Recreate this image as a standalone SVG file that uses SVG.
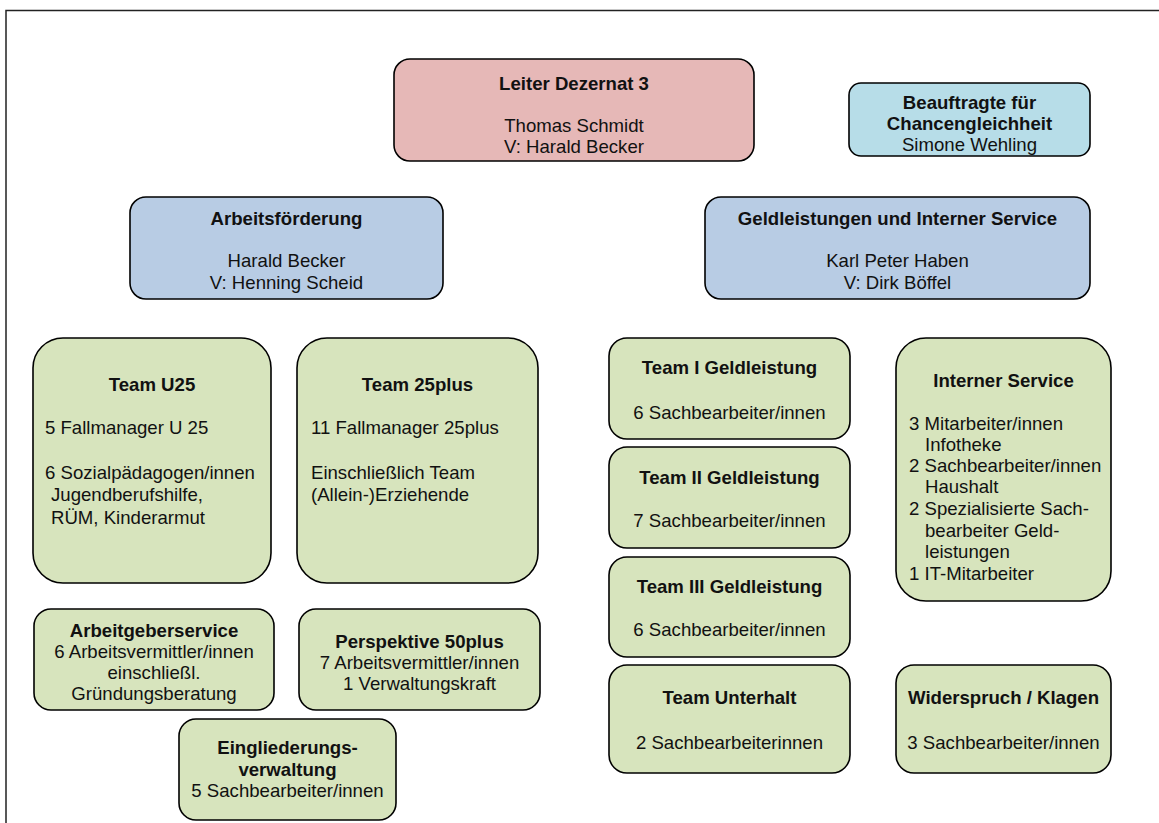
<svg xmlns="http://www.w3.org/2000/svg" width="1159" height="823" viewBox="0 0 1159 823">
<style>
.box{stroke:#000;stroke-width:1.6}
.red{fill:#e6b8b7}
.cyan{fill:#b7dde8}
.blue{fill:#b8cce4}
.green{fill:#d7e4bd}
text{font-family:"Liberation Sans",Arial,sans-serif;font-size:18.6px;fill:#111}
.b{font-weight:bold}
.c{text-anchor:middle}
</style>
<rect width="1159" height="823" fill="#fff"/>
<path d="M6,823 V10.5 H1159" fill="none" stroke="#222" stroke-width="1.5"/>
<g id="connectors"/>
<g id="leiter">
<rect class="box red" x="394" y="59" width="360" height="102" rx="16"/>
<text class="b c" x="574" y="90">Leiter Dezernat 3</text>
<text class="c" x="574" y="131.5">Thomas Schmidt</text>
<text class="c" x="574" y="153">V: Harald Becker</text>
</g>
<g id="chancengleichheit">
<rect class="box cyan" x="849" y="83" width="241" height="73" rx="12"/>
<text class="b c" x="969.5" y="108.5">Beauftragte für</text>
<text class="b c" x="969.5" y="129.5">Chancengleichheit</text>
<text class="c" x="969.5" y="150.5">Simone Wehling</text>
</g>
<g id="arbeitsfoerderung">
<rect class="box blue" x="130" y="197" width="313" height="102" rx="16"/>
<text class="b c" x="286.5" y="225">Arbeitsförderung</text>
<text class="c" x="286.5" y="267">Harald Becker</text>
<text class="c" x="286.5" y="289">V: Henning Scheid</text>
</g>
<g id="geldleistungen">
<rect class="box blue" x="705" y="197" width="385" height="102" rx="16"/>
<text class="b c" x="897.5" y="225">Geldleistungen und Interner Service</text>
<text class="c" x="897.5" y="267">Karl Peter Haben</text>
<text class="c" x="897.5" y="289">V: Dirk Böffel</text>
</g>
<g id="team-u25">
<rect class="box green" x="33" y="338" width="238" height="245" rx="30"/>
<text class="b c" x="152" y="390.5">Team U25</text>
<text x="45" y="434">5 Fallmanager U 25</text>
<text x="45" y="478.5">6 Sozialpädagogen/innen</text>
<text x="51" y="501">Jugendberufshilfe,</text>
<text x="51" y="523.5">RÜM, Kinderarmut</text>
</g>
<g id="team-25plus">
<rect class="box green" x="297" y="338" width="241" height="245" rx="30"/>
<text class="b c" x="417.5" y="390.5">Team 25plus</text>
<text x="311" y="434">11 Fallmanager 25plus</text>
<text x="311" y="478.5">Einschließlich Team</text>
<text x="311" y="501">(Allein-)Erziehende</text>
</g>
<g id="arbeitgeberservice">
<rect class="box green" x="34" y="609" width="240" height="101" rx="17"/>
<text class="b c" x="154" y="637">Arbeitgeberservice</text>
<text class="c" x="154" y="657.5">6 Arbeitsvermittler/innen</text>
<text class="c" x="154" y="678.5">einschließl.</text>
<text class="c" x="154" y="699.5">Gründungsberatung</text>
</g>
<g id="perspektive-50plus">
<rect class="box green" x="299" y="609" width="241" height="101" rx="17"/>
<text class="b c" x="419.5" y="647.5">Perspektive 50plus</text>
<text class="c" x="419.5" y="669">7 Arbeitsvermittler/innen</text>
<text class="c" x="419.5" y="690">1 Verwaltungskraft</text>
</g>
<g id="eingliederungsverwaltung">
<rect class="box green" x="179" y="719" width="217" height="101" rx="17"/>
<text class="b c" x="287.5" y="754">Eingliederungs-</text>
<text class="b c" x="287.5" y="775.5">verwaltung</text>
<text class="c" x="287.5" y="797">5 Sachbearbeiter/innen</text>
</g>
<g id="team-i-geldleistung">
<rect class="box green" x="609" y="338" width="241" height="101" rx="18"/>
<text class="b c" x="729.5" y="374">Team I Geldleistung</text>
<text class="c" x="729.5" y="419">6 Sachbearbeiter/innen</text>
</g>
<g id="team-ii-geldleistung">
<rect class="box green" x="609" y="447" width="241" height="101" rx="18"/>
<text class="b c" x="729.5" y="484">Team II Geldleistung</text>
<text class="c" x="729.5" y="527">7 Sachbearbeiter/innen</text>
</g>
<g id="team-iii-geldleistung">
<rect class="box green" x="609" y="557" width="241" height="100" rx="18"/>
<text class="b c" x="729.5" y="593">Team III Geldleistung</text>
<text class="c" x="729.5" y="636">6 Sachbearbeiter/innen</text>
</g>
<g id="team-unterhalt">
<rect class="box green" x="609" y="665" width="241" height="108" rx="18"/>
<text class="b c" x="729.5" y="704">Team Unterhalt</text>
<text class="c" x="729.5" y="749">2 Sachbearbeiterinnen</text>
</g>
<g id="interner-service">
<rect class="box green" x="896" y="338" width="215" height="263" rx="30"/>
<text class="b c" x="1003.5" y="386.5">Interner Service</text>
<text x="909" y="430">3 Mitarbeiter/innen</text>
<text x="925" y="451">Infotheke</text>
<text x="909" y="472">2 Sachbearbeiter/innen</text>
<text x="925" y="493">Haushalt</text>
<text x="909" y="514.5">2 Spezialisierte Sach-</text>
<text x="925" y="536.5">bearbeiter Geld-</text>
<text x="925" y="558">leistungen</text>
<text x="909" y="580">1 IT-Mitarbeiter</text>
</g>
<g id="widerspruch-klagen">
<rect class="box green" x="896" y="665" width="215" height="108" rx="18"/>
<text class="b c" x="1003.5" y="704">Widerspruch / Klagen</text>
<text class="c" x="1003.5" y="749">3 Sachbearbeiter/innen</text>
</g>
</svg>
